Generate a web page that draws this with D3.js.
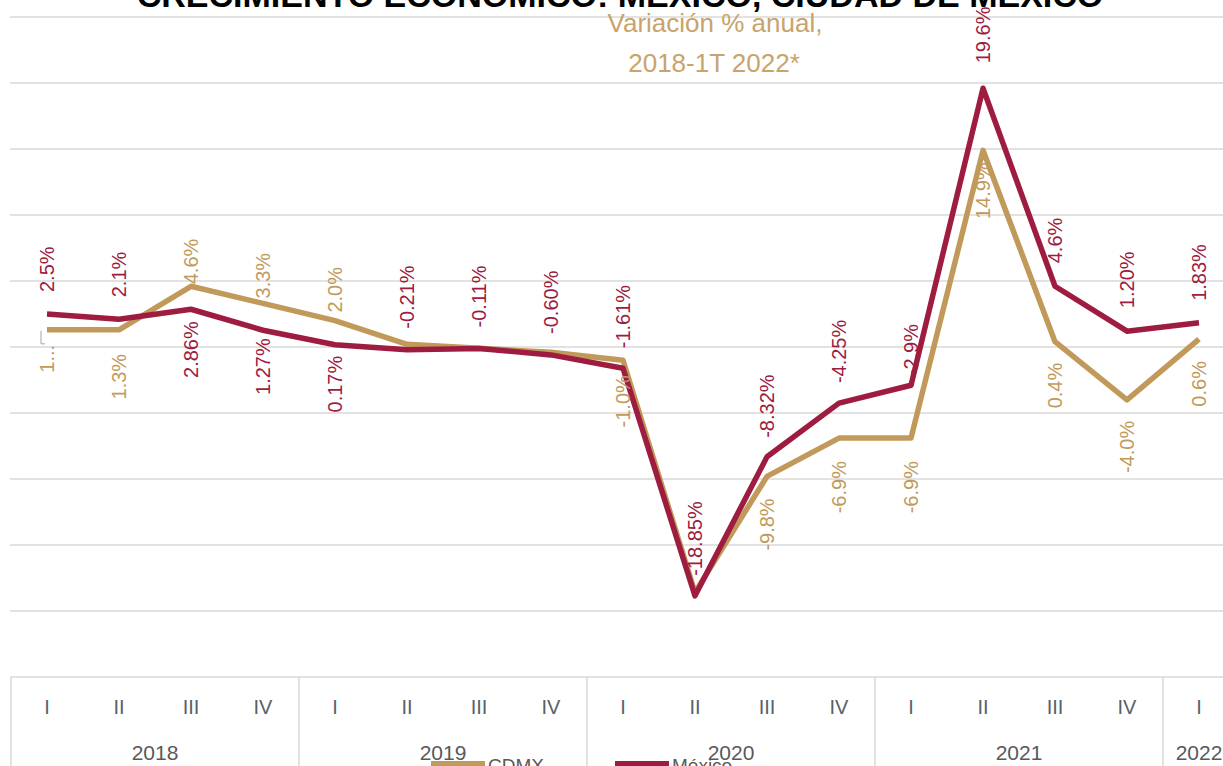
<!DOCTYPE html>
<html>
<head>
<meta charset="utf-8">
<script src="https://cdn.jsdelivr.net/npm/d3@7"></script>
<style>
  body { margin: 0; background: #fff; overflow: hidden; }
  text { font-family: "Liberation Sans", Arial, sans-serif; }
</style>
</head>
<body>
<div id="chart"></div>
<script>
// chart data
const quarters = ["I", "II", "III", "IV", "I", "II", "III", "IV", "I", "II", "III", "IV", "I", "II", "III", "IV", "I"];
const years = ["2018", "2019", "2020", "2021", "2022"];
const quartersPerYear = [4, 4, 4, 4, 1];
const cdmx = [1.3, 1.3, 4.6, 3.3, 2.0, 0.2, -0.1, -0.4, -1.0, -18.6, -9.8, -6.9, -6.9, 14.9, 0.4, -4.0, 0.6];
const mexico = [2.5, 2.1, 2.86, 1.27, 0.17, -0.21, -0.11, -0.60, -1.61, -18.85, -8.32, -4.25, -2.9, 19.6, 4.6, 1.20, 1.83];
const cdmxLabels = ["1...", "1.3%", "4.6%", "3.3%", "2.0%", null, null, null, "-1.0%", null, "-9.8%", "-6.9%", "-6.9%", "14.9%", "0.4%", "-4.0%", "0.6%"];
const mexicoLabels = ["2.5%", "2.1%", "2.86%", "1.27%", "0.17%", "-0.21%", "-0.11%", "-0.60%", "-1.61%", "-18.85%", "-8.32%", "-4.25%", "-2.9%", "19.6%", "4.6%", "1.20%", "1.83%"];

// label placement (px from the point; negative = above, positive = below)
const cdmxLabelGap = [15, 24, -2, -5, -8, 0, 0, 0, 15, 0, 22, 23, 23, 12, 21, 21, 22];
const mexicoLabelGap = [-22, -22, 12, 8, 11, -21, -21, -21, -20, -20, -19, -20, -9, -25, -23, -23, -22];

const width = 1223;
const height = 766;
const gold = "#C19A5B";
const crimson = "#9D1C40";
const gridColor = "#d9d9d9";

const svg = d3.select("#chart").append("svg")
    .attr("width", width)
    .attr("height", height);

const idx = d3.range(quarters.length);

// x: one band per quarter, the last band runs past the right edge
const x = d3.scaleBand()
    .domain(idx)
    .range([11, 11 + 72 * quarters.length])
    .padding(0);
const cx = i => x(i) + x.bandwidth() / 2;

const y = d3.scaleLinear()
    .domain([-25, 25])
    .range([677, 17]);

// gridlines
svg.append("g")
    .selectAll("line")
    .data(d3.range(-20, 26, 5))
    .join("line")
    .attr("x1", 10)
    .attr("x2", width)
    .attr("y1", d => y(d))
    .attr("y2", d => y(d))
    .attr("stroke", gridColor)
    .attr("stroke-width", 1.5);

// category axis box
const axisG = svg.append("g");
axisG.append("line")
    .attr("x1", 10).attr("x2", width)
    .attr("y1", y(-25)).attr("y2", y(-25))
    .attr("stroke", gridColor).attr("stroke-width", 1.5);

let start = 0;
const yearSpans = years.map((yr, k) => {
    const s = { year: yr, first: start, last: start + quartersPerYear[k] - 1 };
    start += quartersPerYear[k];
    return s;
});

axisG.selectAll("line.div")
    .data(yearSpans)
    .join("line")
    .attr("class", "div")
    .attr("x1", d => x(d.first))
    .attr("x2", d => x(d.first))
    .attr("y1", y(-25))
    .attr("y2", height)
    .attr("stroke", gridColor)
    .attr("stroke-width", 1.5);

axisG.selectAll("text.q")
    .data(idx)
    .join("text")
    .attr("class", "q")
    .attr("x", d => cx(d))
    .attr("y", 714)
    .attr("text-anchor", "middle")
    .attr("font-size", 20)
    .attr("fill", "#5a5f6b")
    .text(d => quarters[d]);

axisG.selectAll("text.yr")
    .data(yearSpans)
    .join("text")
    .attr("class", "yr")
    .attr("x", d => (x(d.first) + x(d.last) + x.bandwidth()) / 2)
    .attr("y", 760)
    .attr("text-anchor", "middle")
    .attr("font-size", 21)
    .attr("fill", "#595959")
    .text(d => d.year);

// lines
const line = values => d3.line()
    .x(i => cx(i))
    .y(i => y(values[i]))(idx);

svg.append("path")
    .attr("d", line(cdmx))
    .attr("fill", "none")
    .attr("stroke", gold)
    .attr("stroke-width", 5.5)
    .attr("stroke-linejoin", "round");

svg.append("path")
    .attr("d", line(mexico))
    .attr("fill", "none")
    .attr("stroke", crimson)
    .attr("stroke-width", 5.5)
    .attr("stroke-linejoin", "round");

// leader line for the clipped first CDMX label
svg.append("path")
    .attr("d", `M${cx(0) - 6},${y(cdmx[0]) + 1}V${y(cdmx[0]) + 14}h4`)
    .attr("fill", "none")
    .attr("stroke", "#a6a6a6")
    .attr("stroke-width", 1);

// rotated data labels
function addLabels(values, labels, gaps, color) {
    const pts = idx.filter(i => labels[i] !== null);
    svg.append("g")
        .selectAll("text")
        .data(pts)
        .join("text")
        .attr("transform", i => `translate(${cx(i)},${y(values[i]) + gaps[i]}) rotate(-90)`)
        .attr("text-anchor", i => gaps[i] < 0 ? "start" : "end")
        .attr("dominant-baseline", "central")
        .attr("font-size", 20)
        .attr("fill", color)
        .text(i => labels[i]);
}
addLabels(cdmx, cdmxLabels, cdmxLabelGap, gold);
addLabels(mexico, mexicoLabels, mexicoLabelGap, crimson);

// title + subtitle
svg.append("text")
    .attr("x", 620)
    .attr("y", 7)
    .attr("text-anchor", "middle")
    .attr("font-size", 34)
    .attr("font-weight", "bold")
    .attr("fill", "#000")
    .text("CRECIMIENTO ECONÓMICO: MÉXICO, CIUDAD DE MÉXICO");

const subColor = "#C9A36B";
svg.append("text")
    .attr("x", 715).attr("y", 32)
    .attr("text-anchor", "middle")
    .attr("font-size", 26)
    .attr("fill", subColor)
    .text("Variación % anual,");
svg.append("text")
    .attr("x", 714).attr("y", 72)
    .attr("text-anchor", "middle")
    .attr("font-size", 26)
    .attr("fill", subColor)
    .text("2018-1T 2022*");

// legend (cut off at the bottom)
const legend = [
    { name: "CDMX", color: gold, x: 431 },
    { name: "México", color: crimson, x: 615 }
];
const lg = svg.append("g").selectAll("g")
    .data(legend)
    .join("g")
    .attr("transform", d => `translate(${d.x},0)`);
lg.append("rect")
    .attr("x", 0).attr("y", 761)
    .attr("width", 54).attr("height", 7)
    .attr("fill", d => d.color);
lg.append("text")
    .attr("x", 57).attr("y", 772)
    .attr("font-size", 19)
    .attr("fill", "#595959")
    .text(d => d.name);
</script>
</body>
</html>
